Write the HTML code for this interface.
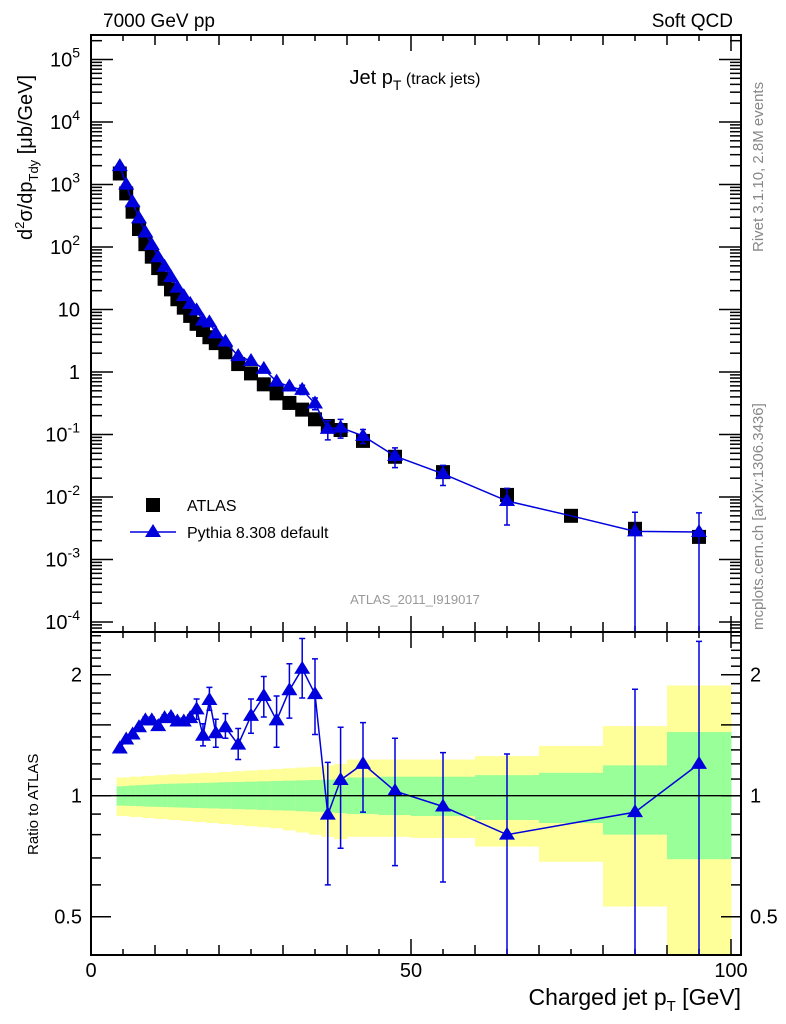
<!DOCTYPE html>
<html><head><meta charset="utf-8"><style>
html,body{margin:0;padding:0;background:#fff;}
svg{display:block;font-family:"Liberation Sans",Arial,sans-serif;}
</style></head><body>
<svg id="chart" width="786" height="1024" viewBox="0 0 786 1024" xmlns="http://www.w3.org/2000/svg">
<text x="103" y="27" font-size="19">7000 GeV pp</text>
<text x="733" y="27" font-size="19" text-anchor="end">Soft QCD</text>
<text x="415" y="84" font-size="20" text-anchor="middle">Jet p<tspan font-size="14" dy="6">T</tspan><tspan font-size="16" dy="-6"> (track jets)</tspan></text>
<text transform="translate(32,240) rotate(-90)" font-size="20">d<tspan font-size="13" dy="-8">2</tspan><tspan dy="8">σ/dp</tspan><tspan font-size="13" dy="6">Tdy</tspan><tspan dy="-6"> [μb/GeV]</tspan></text>
<text transform="translate(38,855) rotate(-90)" font-size="15">Ratio to ATLAS</text>
<text transform="translate(763,252) rotate(-90)" font-size="15" fill="#888">Rivet 3.1.10,  2.8M events</text>
<text transform="translate(763,630) rotate(-90)" font-size="15" fill="#888">mcplots.cern.ch [arXiv:1306.3436]</text>
<text x="415" y="604" font-size="13" fill="#999" text-anchor="middle">ATLAS_2011_I919017</text>
<text x="741" y="1005" font-size="23" text-anchor="end">Charged jet p<tspan font-size="15" dy="6">T</tspan><tspan dy="-6"> [GeV]</tspan></text>
<g id="bands"></g><g id="ticks"></g><g id="marks"></g>
<rect x="91" y="35" width="650" height="597" fill="none" stroke="#000" stroke-width="2"/>
<rect x="91" y="632" width="650" height="323" fill="none" stroke="#000" stroke-width="2"/>
<line x1="91" x2="741" y1="795.7" y2="795.7" stroke="#000" stroke-width="1.3"/>
<rect x="146" y="498" width="14" height="14" fill="#000"/>
<text x="187" y="511" font-size="16">ATLAS</text>
<line x1="130" x2="176" y1="532" y2="532" stroke="#0000dd" stroke-width="1.5"/>
<polygon points="153,524 161,537 145,537" fill="#0000dd"/>
<text x="187" y="538" font-size="16">Pythia 8.308 default</text>
</svg>
<script>
const xCenters=[4.5,5.5,6.5,7.5,8.5,9.5,10.5,11.5,12.5,13.5,14.5,15.5,16.5,17.5,18.5,19.5,21,23,25,27,29,31,33,35,37,39,42.5,47.5,55,65,75,85,95];
const binLo=[4,5,6,7,8,9,10,11,12,13,14,15,16,17,18,19,20,22,24,26,28,30,32,34,36,38,40,45,50,60,70,80,90];
const binHi=[5,6,7,8,9,10,11,12,13,14,15,16,17,18,19,20,22,24,26,28,30,32,34,36,38,40,45,50,60,70,80,90,100];
const atlasVals=[1500,720,367,194,111,70,46,31,21,14.6,10.7,7.9,5.9,4.7,3.6,2.9,2.07,1.34,0.95,0.635,0.455,0.32,0.25,0.175,0.137,0.118,0.079,0.044,0.025,0.0108,0.005,0.0031,0.0023];
const ratioVals=[1.31,1.38,1.42,1.48,1.54,1.54,1.49,1.56,1.57,1.53,1.53,1.56,1.64,1.41,1.73,1.43,1.48,1.34,1.58,1.77,1.54,1.83,2.07,1.79,0.897,1.094,1.20,1.027,0.94,0.80,null,0.91,1.20];
const ratioHi=[1.33,1.40,1.44,1.50,1.57,1.57,1.52,1.59,1.60,1.56,1.56,1.59,1.74,1.51,1.86,1.55,1.60,1.47,1.74,1.98,1.77,2.13,2.46,2.19,1.21,1.48,1.52,1.39,1.28,1.27,null,1.84,2.42];
const ratioLo=[1.29,1.36,1.40,1.46,1.51,1.51,1.46,1.53,1.54,1.50,1.50,1.53,1.55,1.33,1.63,1.32,1.39,1.23,1.43,1.57,1.32,1.56,1.75,1.42,0.60,0.74,0.91,0.67,0.61,0.33,null,0.01,0.01];
const totHi=[1.11,1.11,1.115,1.115,1.12,1.12,1.125,1.125,1.13,1.13,1.13,1.135,1.135,1.14,1.14,1.14,1.145,1.15,1.155,1.16,1.165,1.17,1.175,1.18,1.19,1.20,1.23,1.23,1.23,1.255,1.33,1.49,1.88];
const totLo=[0.89,0.89,0.885,0.885,0.88,0.88,0.875,0.875,0.87,0.87,0.865,0.865,0.86,0.86,0.855,0.855,0.85,0.845,0.84,0.835,0.83,0.82,0.81,0.80,0.79,0.78,0.79,0.79,0.785,0.747,0.685,0.53,0.2];
const statHi=[1.055,1.057,1.06,1.062,1.064,1.066,1.068,1.07,1.071,1.072,1.073,1.074,1.075,1.076,1.077,1.078,1.08,1.082,1.084,1.086,1.088,1.09,1.092,1.094,1.096,1.10,1.11,1.115,1.115,1.125,1.14,1.19,1.44];
const statLo=[0.945,0.944,0.943,0.942,0.94,0.939,0.938,0.937,0.936,0.935,0.934,0.933,0.932,0.931,0.93,0.93,0.928,0.926,0.924,0.922,0.92,0.918,0.915,0.912,0.91,0.905,0.90,0.895,0.89,0.87,0.855,0.80,0.695];
const mainTickExps=[5,4,3,2,1,0,-1,-2,-3,-4];
const ratioTickLabels=[2,1,0.5];
const xTickLabels=[0,50,100];

const NS="http://www.w3.org/2000/svg";
const X=v=>91+v*6.4;
const YM=v=>372-62.5*Math.log10(v);
const YR=r=>795.7-121*Math.log2(r);
const clamp=(y,a,b)=>Math.max(a,Math.min(b,y));
function mk(parent,tag,attrs){const e=document.createElementNS(NS,tag);for(const k in attrs)e.setAttribute(k,attrs[k]);document.getElementById(parent).appendChild(e);return e;}

for(let i=0;i<binLo.length;i++){
  const x=X(binLo[i]),w=X(binHi[i])-X(binLo[i]);
  const t=clamp(YR(totHi[i]),632,955),b=clamp(YR(totLo[i]),632,955);
  const y=mk('bands','rect',{x:x,y:t,width:w+0.5,height:b-t,fill:'#ffff99'});
  
  
  const t2=clamp(YR(statHi[i]),632,955),b2=clamp(YR(statLo[i]),632,955);
  const g=mk('bands','rect',{x:x,y:t2,width:w+0.5,height:b2-t2,fill:'#99ff99'});
  
  
}
for(let v=0;v<=100;v+=5){
  const len=v%50===0?16:(v%10===0?10:6);
  [[35,1],[632,-1],[632,1],[955,-1]].forEach(([y0,d])=>{
    const l=mk('ticks','line',{x1:X(v),x2:X(v),y1:y0,y2:y0+d*len,stroke:'#000','stroke-width':1.5});
    
    
  });
}
xTickLabels.forEach(v=>{
  const t=mk('ticks','text',{x:X(v),y:977,'font-size':20,'text-anchor':'middle'});t.textContent=v;
  
  
});
for(let e=-5;e<=5;e++){for(let m=1;m<10;m++){
  const v=m*Math.pow(10,e);const y=YM(v);if(y<36||y>631)continue;
  const len=m===1?22:11;
  [[91,1],[741,-1]].forEach(([x0,d])=>{
    const l=mk('ticks','line',{x1:x0,x2:x0+d*len,y1:y,y2:y,stroke:'#000','stroke-width':1.5});
    
    
  });
}}
mainTickExps.forEach(e=>{
  const y=YM(Math.pow(10,e))+7;
  const t=mk('ticks','text',{x:80,y:y,'font-size':20,'text-anchor':'end'});
  
  
  if(e===0)t.textContent='1';else if(e===1)t.textContent='10';
  else{t.innerHTML='10<tspan font-size="14" dy="-9">'+e+'</tspan>';}
});
for(let k=4;k<=25;k++){
  const r=k/10;const y=YR(r);if(y<633||y>954)continue;
  const len=(k===5||k===10||k===15||k===20)?20:10;
  [[91,1],[741,-1]].forEach(([x0,d])=>{
    const l=mk('ticks','line',{x1:x0,x2:x0+d*len,y1:y,y2:y,stroke:'#000','stroke-width':1.5});
    
    
  });
}
ratioTickLabels.forEach(r=>{
  [[82,'end'],[750,'start']].forEach(([x,a])=>{
    const t=mk('ticks','text',{x:x,y:YR(r)+7,'font-size':20,'text-anchor':a});t.textContent=r;
    
    
  });
});
atlasVals.forEach((v,i)=>{
  const s=mk('marks','rect',{x:X(xCenters[i])-7,y:YM(v)-7,width:14,height:14,fill:'#000'});
  
  
});
const mcMain=atlasVals.map((v,i)=>v*(ratioVals[i]===null?1:ratioVals[i]));
const tri=(x,y)=>`${x},${y-8} ${x+8},${y+5} ${x-8},${y+5}`;
let pts=mcMain.map((v,i)=>X(xCenters[i])+','+YM(v)).join(' ');
let pl=mk('marks','polyline',{points:pts,fill:'none',stroke:'#0000dd','stroke-width':1.5});


mcMain.forEach((v,i)=>{
  const x=X(xCenters[i]);
  if(ratioHi[i]!==null&&i>=22){
    const y1=clamp(YM(atlasVals[i]*ratioHi[i]),36,631),y2=clamp(YM(atlasVals[i]*ratioLo[i]),36,631);
    const eb=mk('marks','path',{d:`M${x},${y1}V${y2}M${x-3},${y1}h6`+(y2<630?`M${x-3},${y2}h6`:''),stroke:'#0000dd','stroke-width':1.5,fill:'none'});
    
    
  }
  if(ratioVals[i]===null)return;
  const p=mk('marks','polygon',{points:tri(x,YM(v)),fill:'#0000dd'});
  
  
});
const ri=ratioVals.map((r,i)=>i).filter(i=>ratioVals[i]!==null);
pl=mk('marks','polyline',{points:ri.map(i=>X(xCenters[i])+','+YR(ratioVals[i])).join(' '),fill:'none',stroke:'#0000dd','stroke-width':1.5});


ri.forEach(i=>{
  const x=X(xCenters[i]);
  const y1=clamp(YR(ratioHi[i]),633,955),y2=clamp(YR(ratioLo[i]),633,955);
  const eb=mk('marks','path',{d:`M${x},${y1}V${y2}M${x-3},${y1}h6`+(y2<954?`M${x-3},${y2}h6`:''),stroke:'#0000dd','stroke-width':1.5,fill:'none'});
  
  
  const p=mk('marks','polygon',{points:tri(x,YR(ratioVals[i])),fill:'#0000dd'});
  
  
});
</script>
</body></html>
